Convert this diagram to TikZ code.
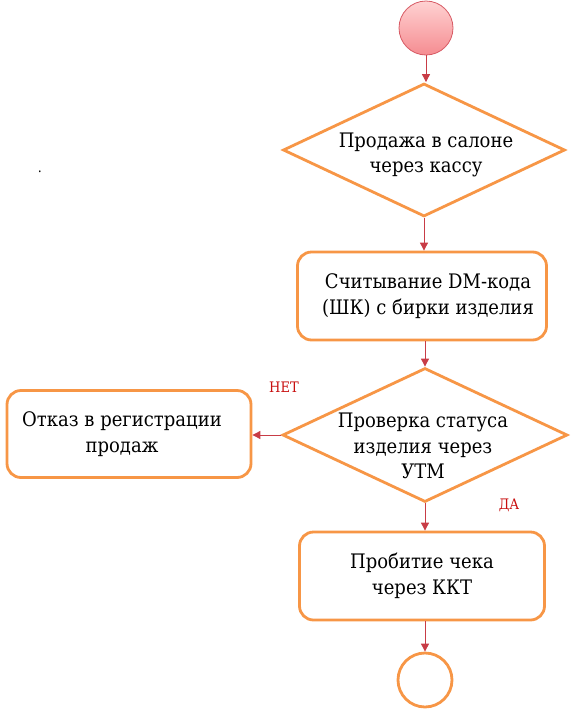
\documentclass[tikz,border=0pt]{standalone}
\usepackage{fontspec}
\setmainfont{DejaVu Serif}[FakeStretch=0.9]
\usetikzlibrary{shapes.geometric,arrows.meta}
\definecolor{orng}{RGB}{247,150,70}
\definecolor{arr}{RGB}{200,60,70}
\definecolor{lbl}{RGB}{200,15,15}
\tikzset{
  box/.style={draw=orng, line width=2.8pt, rounded corners=14pt, fill=white, align=center, font=\rmfamily\fontsize{20}{25.5}\selectfont},
  dia/.style={draw=orng, line width=2.8pt, diamond, inner sep=0pt, fill=white},
  txt/.style={align=center, font=\rmfamily\fontsize{20}{25.5}\selectfont},
  conn/.style={draw=arr, line width=0.9pt, -{Triangle[length=8pt,width=8pt]}},
  lab/.style={text=lbl, inner sep=0pt, font=\rmfamily\fontsize{14.5}{15}\selectfont}
}
\begin{document}
\begin{tikzpicture}[x=1pt,y=-1pt]
\useasboundingbox (0,0) rectangle (579,713);
\node[circle, draw={rgb,255:red,215;green,90;blue,100}, line width=0.8pt, minimum size=54pt, inner sep=0pt,
      top color={rgb,255:red,255;green,210;blue,210}, bottom color={rgb,255:red,245;green,140;blue,145}] (start) at (426,28) {};
\node[dia, minimum width=282pt, minimum height=133pt] (d1) at (424,150) {};
\node[txt] (d1t) at (426,155) {Продажа в салоне\\через кассу};
\node[box, minimum width=249pt, minimum height=88pt] (r1) at (422,296) {\hspace*{12pt}Считывание DM-кода\\\hspace*{12pt}(ШК) с бирки изделия};
\node[dia, minimum width=285pt, minimum height=134pt] (d2) at (425,435) {};
\node[txt] (d2t) at (423,446) {Проверка статуса\\изделия через\\УТМ};
\node[box, minimum width=244pt, minimum height=87pt] (r2) at (129,434) {\hspace*{-14pt}Отказ в регистрации\\\hspace*{-14pt}продаж};
\node[box, minimum width=245pt, minimum height=88pt] (r3) at (422,576) {Пробитие чека\\через ККТ};
\node[circle, draw=orng, line width=2.8pt, minimum size=54pt, inner sep=0pt, fill=white] (end) at (425,680) {};
\node[lab] (no) at (284,387) {НЕТ};
\node[lab] (yes) at (509,505) {ДА};
\node[font=\fontsize{14}{14}\selectfont] (dot) at (40,172) {.};
\draw[conn] (start.south) -- (start.south |- d1.north);
\draw[conn] (d1.south) -- (d1.south |- r1.north);
\draw[conn] (r1.south -| d2.north) -- (d2.north);
\draw[conn] (d2.south) -- (d2.south |- r3.north);
\draw[conn] (r3.south -| end.north) -- (end.north);
\draw[conn] (d2.west) -- (d2.west -| r2.east);
\end{tikzpicture}
\end{document}
